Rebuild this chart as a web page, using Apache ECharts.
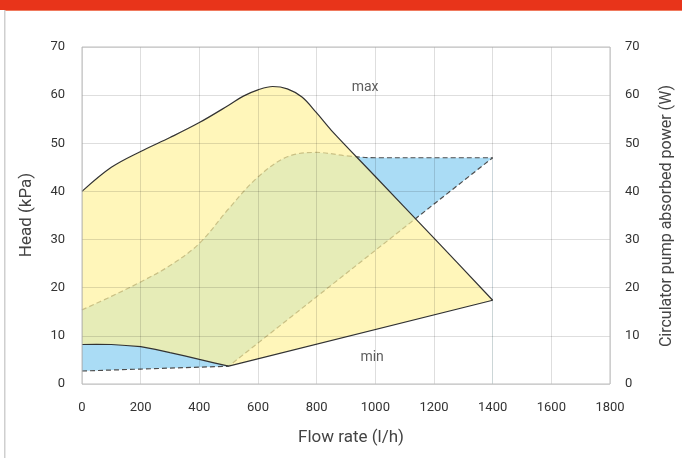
<!DOCTYPE html>
<html>
<head>
<meta charset="utf-8">
<script src="https://cdn.jsdelivr.net/npm/echarts@6/dist/echarts.min.js"></script>
<style>
html,body{margin:0;padding:0;background:#fff;}
#chart{width:682px;height:458px;}
</style>
</head>
<body>
<div id="chart"></div>
<script>
// ---- data ----
const maxHead = [[0,40],[100,45.0],[200,48.3],[300,51.2],[400,54.3],[500,57.9],[550,59.8],[600,61.1],[650,61.8],[700,61.3],[750,59.6],[800,56.3],[850,52.7],[1000,43.1],[1200,30.3],[1400,17.4]];
const minHead = [[0,8.2],[50,8.25],[100,8.2],[150,8.0],[200,7.75],[250,7.2],[300,6.5],[350,5.85],[400,5.1],[450,4.4],[500,3.7],[1400,17.4]];
const maxPower = [[0,15.4],[100,18.2],[200,21.2],[300,24.6],[400,29.2],[500,36.4],[600,43.0],[700,47.2],[800,48.1],[900,47.4],[1000,47.0],[1200,47.0],[1400,47.0]];
const minPower = [[0,2.7],[100,2.9],[200,3.1],[300,3.3],[400,3.5],[500,3.7],[1400,47.0]];
const curveLabels = ['max', 'min'];
const curveLabelAnchors = [[965, 61.6], [989, 5.6]];

const xTitle = 'Flow rate (l/h)';
const yTitle = 'Head (kPa)';
const y2Title = 'Circulator pump absorbed power (W)';

// ---- derived ----
const lowerEnvelope = minPower.filter(p => p[0] <= 500).concat(minHead.filter(p => p[0] > 500));
const minPowerLeft = minPower.filter(p => p[0] <= 500);

const BLUE = '#AADCF5';
const YELLOW = 'rgba(255,242,156,0.7)';

function area(data, color, z, smooth) {
  return { type: 'line', data, z, symbol: 'none', silent: true, animation: false,
    smooth: smooth || false,
    lineStyle: { width: 0, opacity: 0 }, areaStyle: { color, opacity: 1 } };
}
function line(data, dashed, z, smooth) {
  return { type: 'line', data, z, symbol: 'none', silent: true, animation: false,
    smooth: smooth || false,
    lineStyle: dashed ? { color: '#4d4d4d', width: 1.2, type: [5, 3] } : { color: '#333', width: 1.2 } };
}

const chart = echarts.init(document.getElementById('chart'), null, { renderer: 'canvas' });
const labelFont = { fontFamily: 'Roboto', fontSize: 13, color: '#333', formatter: v => String(v) };
const SM = 0.35;
chart.setOption({
  animation: false,
  backgroundColor: '#fff',
  grid: { left: 82, right: 72, top: 47, bottom: 74, show: true, borderColor: '#bdbdbd', borderWidth: 1, z: 9, backgroundColor: 'transparent' },
  xAxis: {
    type: 'value', min: 0, max: 1800, interval: 200, z: 8,
    axisLine: { show: false }, axisTick: { show: false },
    axisLabel: Object.assign({ margin: 17 }, labelFont),
    splitLine: { show: true, lineStyle: { color: 'rgba(0,0,0,0.13)', width: 1 } }
  },
  yAxis: [{
    type: 'value', min: 0, max: 70, interval: 10, z: 8,
    axisLine: { show: false }, axisTick: { show: false },
    axisLabel: Object.assign({ margin: 17 }, labelFont),
    splitLine: { show: true, lineStyle: { color: 'rgba(0,0,0,0.13)', width: 1 } }
  }, {
    type: 'value', min: 0, max: 70, interval: 10, position: 'right', z: 8,
    axisLine: { show: false }, axisTick: { show: false },
    axisLabel: Object.assign({ margin: 15 }, labelFont),
    splitLine: { show: false }
  }],
  graphic: [
    { type: 'rect', shape: { x: 0, y: 0, width: 682, height: 10 }, style: { fill: '#E8341A' }, z: 10 },
    { type: 'rect', shape: { x: 4, y: 10, width: 678, height: 1 }, style: { fill: '#F07A5E' }, z: 10 },
    { type: 'rect', shape: { x: 4, y: 10, width: 1.5, height: 448 }, style: { fill: '#cfcfcf' }, z: 10 },
    { type: 'text', x: 351, y: 438, z: 10, style: { text: xTitle, fontFamily: 'Roboto', fontSize: 17, fill: '#444', align: 'center', verticalAlign: 'middle' } },
    { type: 'text', x: 27, y: 215, rotation: Math.PI / 2, z: 10, style: { text: yTitle, fontFamily: 'Roboto', fontSize: 17, fill: '#444', align: 'center', verticalAlign: 'middle' } },
    { type: 'text', x: 667, y: 216, rotation: Math.PI / 2, z: 10, style: { text: y2Title, fontFamily: 'Roboto', fontSize: 16, fill: '#444', align: 'center', verticalAlign: 'middle' } }
  ],
  series: [
    area(maxPower, BLUE, 1, SM),
    area(minPower, '#fff', 2),
    line(maxPower, true, 3, SM),
    line(minPower, true, 3),
    area(maxHead, YELLOW, 4, SM),
    area(minHead, BLUE, 5),
    area(lowerEnvelope, '#fff', 6),
    line(minPowerLeft, true, 7),
    line(maxHead, false, 7, SM),
    line(minHead, false, 7),
    {
      type: 'scatter', symbolSize: 0, silent: true, animation: false, z: 9,
      data: curveLabels.map((n, i) => ({ name: n, value: curveLabelAnchors[i] })),
      label: { show: true, position: 'inside', formatter: p => p.name, fontFamily: 'Roboto', fontSize: 14, color: '#333' }
    }
  ]
});
</script>
</body>
</html>
